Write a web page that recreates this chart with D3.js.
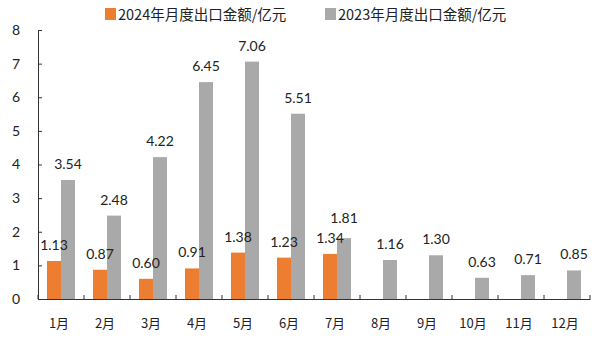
<!DOCTYPE html>
<html><head><meta charset="utf-8">
<script src="https://cdn.jsdelivr.net/npm/d3@7/dist/d3.min.js"></script>
<style>body{margin:0;background:#fff}svg{display:block}</style>
</head><body>
<svg id="c" width="600" height="340"></svg>
<script>
const categories = ["1月","2月","3月","4月","5月","6月","7月","8月","9月","10月","11月","12月"];
const series2024 = [1.13,0.87,0.60,0.91,1.38,1.23,1.34,null,null,null,null,null];
const series2023 = [3.54,2.48,4.22,6.45,7.06,5.51,1.81,1.16,1.30,0.63,0.71,0.85];
const seriesNames = ["2024年月度出口金额/亿元","2023年月度出口金额/亿元"];
const yTicks = [0,1,2,3,4,5,6,7,8];
const colors = ["#ED7D31","#A9A9A9"];

const svg = d3.select("#c");
const x = d3.scaleBand().domain(categories).range([38,590]).paddingInner(0).paddingOuter(0);
const y = d3.scaleLinear().domain([0,8]).range([299,30]);
const bw = 14;
const numFont = "Lato, 'Noto Sans', sans-serif";
const cjkFont = "'Noto Sans CJK SC', sans-serif";

// axes
const ya = svg.append("g").attr("transform","translate(38,0)")
  .call(d3.axisLeft(y).tickValues(yTicks).tickSize(-4).tickPadding(18).tickFormat(d3.format("d")));
ya.select(".domain").attr("stroke","#333");
ya.selectAll(".tick line").attr("stroke","#333");
ya.selectAll("text").attr("font-family",numFont).attr("font-size",14).attr("fill","#222");

const xa = svg.append("g").attr("transform","translate(0,299)")
  .call(d3.axisBottom(x).tickSize(0).tickPadding(20));
xa.select(".domain").attr("stroke","#333");
xa.selectAll("text").attr("font-family",cjkFont).attr("font-size",13).attr("fill","#222").attr("dx",-2);
// boundary ticks (inward)
const bounds = categories.map(c=>x(c)).concat([x.range()[1]]);
svg.append("g").selectAll("line").data(bounds).join("line")
  .attr("x1",d=>d).attr("x2",d=>d).attr("y1",299).attr("y2",295).attr("stroke","#333");

const series = [series2024, series2023];
const barG = svg.append("g");
const labG = svg.append("g");
series.forEach((vals,si)=>{
  const data = categories.map((c,i)=>({c,v:vals[i]})).filter(d=>d.v!=null);
  const off = si===0 ? -bw : 0;
  barG.append("g").selectAll("rect").data(data).join("rect")
    .attr("x",d=>x(d.c)+x.bandwidth()/2+off)
    .attr("width",bw)
    .attr("y",d=>y(d.v))
    .attr("height",d=>y(0)-y(d.v))
    .attr("fill",colors[si]);
  labG.append("g").selectAll("text").data(data).join("text")
    .attr("x",d=>x(d.c)+x.bandwidth()/2+off+bw/2)
    .attr("y",d=>y(d.v)-11 - (si===1 && d.c==="7月" ? 4 : 0))
    .attr("text-anchor","middle")
    .attr("font-family",numFont).attr("font-size",14).attr("fill","#222")
    .text(d=>d.v.toFixed(2));
});

// legend
const lg = svg.append("g");
const lx = [105,325];
seriesNames.forEach((n,i)=>{
  lg.append("rect").attr("x",lx[i]).attr("y",8).attr("width",11).attr("height",12).attr("fill",colors[i]);
  lg.append("text").attr("x",lx[i]+13).attr("y",19.5)
    .attr("font-family",cjkFont).attr("font-size",14.5).attr("fill","#222").text(n);
});
</script>
</body></html>
